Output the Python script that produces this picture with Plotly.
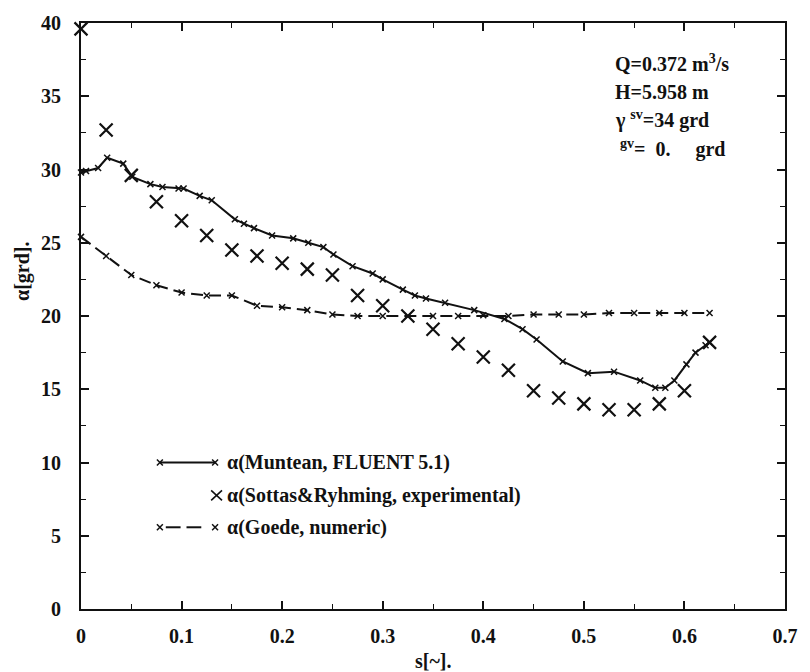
import plotly.graph_objects as go

# ---- data ----
munt_x = [0.0, 0.005, 0.017, 0.026, 0.042, 0.051, 0.069, 0.081, 0.097, 0.102, 0.118, 0.130,
          0.153, 0.162, 0.172, 0.190, 0.211, 0.226, 0.241, 0.251, 0.270, 0.290, 0.300, 0.320,
          0.332, 0.343, 0.362, 0.391, 0.421, 0.439, 0.453, 0.479, 0.504, 0.530, 0.556, 0.571,
          0.581, 0.590, 0.602, 0.611, 0.621, 0.625]
munt_y = [29.8, 29.9, 30.1, 30.8, 30.4, 29.5, 29.0, 28.8, 28.7, 28.7, 28.2, 27.9,
          26.6, 26.3, 26.0, 25.5, 25.3, 25.0, 24.7, 24.2, 23.4, 22.9, 22.5, 21.8,
          21.4, 21.2, 20.9, 20.4, 19.8, 19.1, 18.4, 16.9, 16.1, 16.2, 15.6, 15.1,
          15.1, 15.6, 16.7, 17.5, 18.0, 18.2]

exp_x = [0.0, 0.025, 0.05, 0.075, 0.1, 0.125, 0.15, 0.175, 0.2, 0.225, 0.25, 0.275, 0.3,
         0.325, 0.35, 0.375, 0.4, 0.425, 0.45, 0.475, 0.5, 0.525, 0.55, 0.575, 0.6, 0.625]
exp_y = [39.6, 32.7, 29.6, 27.8, 26.5, 25.5, 24.5, 24.1, 23.6, 23.2, 22.8, 21.4, 20.7,
         20.0, 19.1, 18.1, 17.2, 16.3, 14.9, 14.4, 14.0, 13.6, 13.6, 14.0, 14.9, 18.2]

goede_x = exp_x
goede_y = [25.4, 24.1, 22.8, 22.1, 21.6, 21.4, 21.4, 20.7, 20.6, 20.4, 20.1, 20.0, 20.0,
           20.0, 20.0, 20.0, 20.05, 20.0, 20.1, 20.1, 20.1, 20.2, 20.2, 20.2, 20.2, 20.2]

x_ticks = [0, 0.1, 0.2, 0.3, 0.4, 0.5, 0.6, 0.7]
x_ticklabels = ["0", "0.1", "0.2", "0.3", "0.4", "0.5", "0.6", "0.7"]
y_ticks = [0, 5, 10, 15, 20, 25, 30, 35, 40]

legend_labels = ["\u03b1(Muntean, FLUENT 5.1)",
                 "\u03b1(Sottas&Ryhming, experimental)",
                 "\u03b1(Goede, numeric)"]
info_lines = ["Q=0.372 m<sup>3</sup>/s",
              "H=5.958 m",
              "\u03b3 <sup>sv</sup>=34 grd",
              "\u00a0<sup>gv</sup>=\u00a0 0.\u00a0\u00a0\u00a0\u00a0 grd"]

FONT = "Liberation Serif"
BLACK = "#111111"

# ---- layout geometry (pixels) ----
W, H = 810, 672
L, R, T, B = 81, 15, 21, 63
PW, PH = W - L - R, H - T - B


def px(x):
    return (x - L) / PW


def py(y):
    return (H - B - y) / PH


fig = go.Figure()

fig.add_trace(go.Scatter(
    x=munt_x, y=munt_y, mode="lines+markers",
    line=dict(color=BLACK, width=2),
    marker=dict(symbol="x-thin", size=6, color=BLACK, line=dict(color=BLACK, width=1.5)),
    cliponaxis=False, showlegend=False))

fig.add_trace(go.Scatter(
    x=goede_x, y=goede_y, mode="lines+markers",
    line=dict(color=BLACK, width=2, dash="12px,6px"),
    marker=dict(symbol="x-thin", size=6, color=BLACK, line=dict(color=BLACK, width=1.5)),
    cliponaxis=False, showlegend=False))

fig.add_trace(go.Scatter(
    x=exp_x, y=exp_y, mode="markers",
    marker=dict(symbol="x-thin", size=13, color=BLACK, line=dict(color=BLACK, width=2.2)),
    cliponaxis=False, showlegend=False))

tickfont = dict(family=FONT, size=20, color=BLACK, weight="bold")
axis_common = dict(showline=True, linecolor=BLACK, linewidth=2, mirror="allticks",
                   ticks="inside", ticklen=8, tickwidth=1.8, tickcolor=BLACK,
                   showgrid=False, zeroline=False, tickfont=tickfont)

fig.update_xaxes(range=[0, 0.7], tickvals=x_ticks, ticktext=x_ticklabels,
                 minor=dict(dtick=0.05, ticks="inside", ticklen=5, tickwidth=1.4, tickcolor=BLACK),
                 ticklabelstandoff=8, **axis_common)
fig.update_yaxes(range=[0, 40], tickvals=y_ticks,
                 minor=dict(dtick=2.5, ticks="inside", ticklen=5, tickwidth=1.4, tickcolor=BLACK),
                 ticklabelstandoff=14, **axis_common)

annos = []
# axis titles
annos.append(dict(x=px(21), y=py(270), xref="paper", yref="paper", text="\u03b1[grd].",
                  textangle=-90, showarrow=False, xanchor="center", yanchor="middle",
                  font=dict(family=FONT, size=20, color=BLACK, weight="bold")))
annos.append(dict(x=px(438), y=py(661), xref="paper", yref="paper", text="s[~].",
                  showarrow=False, xanchor="center", yanchor="middle",
                  font=dict(family=FONT, size=20, color=BLACK, weight="bold")))
# info text
for t, yy in zip(info_lines, [61, 90, 118, 147]):
    annos.append(dict(x=px(621), y=py(yy), xref="paper", yref="paper", text=t,
                      showarrow=False, xanchor="left", yanchor="middle",
                      font=dict(family=FONT, size=20, color=BLACK, weight="bold")))

# custom legend
rows = [462, 495, 527]
shapes = []
shapes.append(dict(type="line", xref="paper", yref="paper", x0=px(161), x1=px(218),
                   y0=py(rows[0]), y1=py(rows[0]), line=dict(color=BLACK, width=2)))
for a, b in [(167, 182), (188, 203)]:
    shapes.append(dict(type="line", xref="paper", yref="paper", x0=px(a), x1=px(b),
                       y0=py(rows[2]), y1=py(rows[2]), line=dict(color=BLACK, width=2)))
for r in (rows[0], rows[2]):
    for xx in (161, 217):
        for d in (1, -1):
            shapes.append(dict(type="line", xref="paper", yref="paper",
                               x0=px(xx - 3), x1=px(xx + 3),
                               y0=py(r - 3 * d), y1=py(r + 3 * d),
                               line=dict(color=BLACK, width=1.5)))
for d in (1, -1):
    shapes.append(dict(type="line", xref="paper", yref="paper",
                       x0=px(213), x1=px(224),
                       y0=py(rows[1] - 5 * d), y1=py(rows[1] + 5 * d),
                       line=dict(color=BLACK, width=1.6)))
for lab, r in zip(legend_labels, rows):
    annos.append(dict(x=px(227), y=py(r), xref="paper", yref="paper", text=lab,
                      showarrow=False, xanchor="left", yanchor="middle",
                      font=dict(family=FONT, size=20, color=BLACK, weight="bold")))

fig.update_layout(width=W, height=H, margin=dict(l=L, r=R, t=T, b=B),
                  paper_bgcolor="white", plot_bgcolor="white",
                  annotations=annos, shapes=shapes, showlegend=False)

fig.write_html("out.html")
